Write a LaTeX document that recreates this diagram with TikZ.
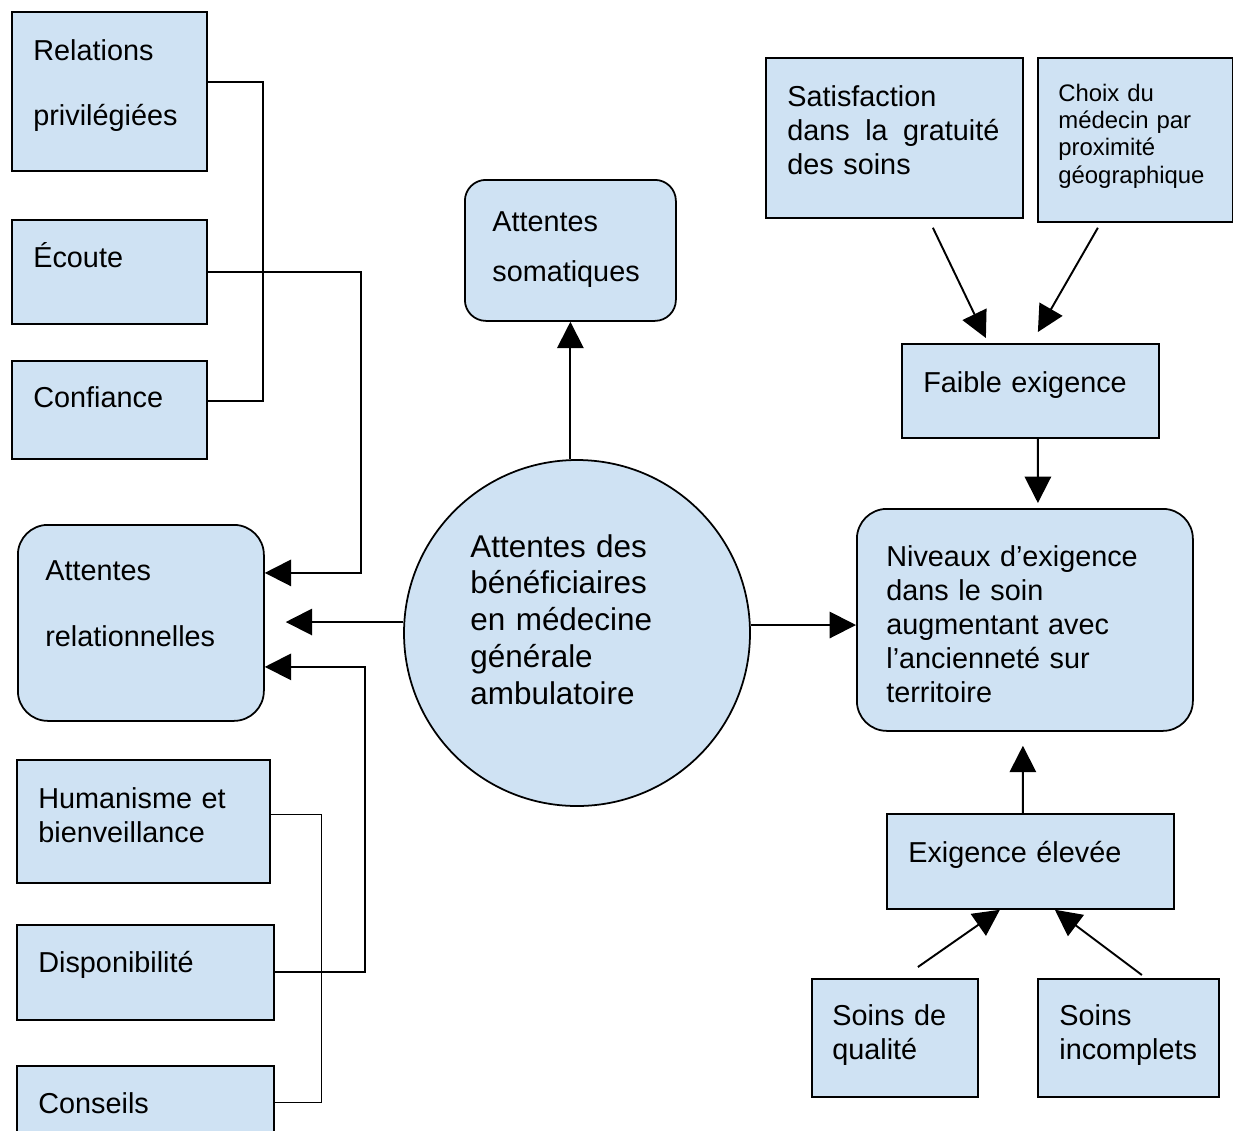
\documentclass[tikz,border=0pt]{standalone}
\usepackage{fontspec}
\setmainfont{Liberation Sans}
\usepackage{xcolor}
\usetikzlibrary{arrows.meta}

\definecolor{boxblue}{HTML}{CFE2F3}

\begin{document}
\begin{tikzpicture}[
    x=0.02cm, y=-0.02cm,
    font=\fontsize{16.4pt}{19.4pt}\selectfont,
    box/.style={draw, line width=1pt, fill=boxblue, anchor=north west, inner sep=0pt},
    rbox/.style={box, rounded corners=#1},
    wh/.style 2 args={minimum width=#1*0.02cm, minimum height=#2*0.02cm},
    txt/.style={anchor=base west, inner sep=0pt, align=left, text width=#1},
    arr/.style={line width=1.1pt, -{Triangle[length=15pt, width=15pt]}},
    lnk/.style={line width=1.1pt},
    thinlnk/.style={line width=0.6pt}
  ]
  \clip (0,0) rectangle (1233,1130);
  \fill[white] (0,0) rectangle (1233,1130);

  % boxes with one line of text
  \foreach \n/\x/\y/\w/\h/\tx/\ty/\t in {
      ecoute/11/219/195/104/33/267/Écoute,
      conf/11/360/195/98/33/407/Confiance,
      dispo/16/924/257/95/38/972/Disponibilité,
      cons/16/1065/257/74/38/1113/Conseils,
      faible/901/343/257/94/923/392/Faible exigence,
      elev/886/813/287/95/908/862/Exigence élevée} {
    \node[box, wh={\w}{\h}] (\n) at (\x,\y) {};
    \node[txt=5cm] (\n-t) at (\tx,\ty) {\t};
  }

  % left column
  \node[box, wh={195}{159}] (rel) at (11,11) {};
  \node[txt=3.6cm] (rel-t) at (33,60) {Relations\\[17.6pt]privilégiées};
  \node[rbox=0.6cm, wh={246}{196}] (attrel) at (17,524) {};
  \node[txt=4.4cm] (attrel-t) at (45,580) {Attentes\\[18.7pt]relationnelles};
  \node[box, wh={253}{123}] (human) at (16,759) {};
  \node[txt=4.6cm] (human-t) at (38,808) {Humanisme et\\bienveillance};

  % centre
  \node[draw, circle, line width=1pt, fill=boxblue, minimum size=346*0.02cm, inner sep=0pt] (circ) at (577,633) {};
  \node[txt=5.6cm, font=\fontsize{17.9pt}{21pt}\selectfont] (circ-t) at (470,557)
    {Attentes des\\bénéficiaires\\en médecine\\générale\\ambulatoire};
  \node[rbox=0.42cm, wh={211}{141}] (soma) at (464,179) {};
  \node[txt=3.8cm] (soma-t) at (492,231) {Attentes\\[9.1pt]somatiques};

  % right column
  \node[box, wh={257}{160}] (satis) at (765,57) {};
  \node[txt=212*0.02cm] (satis-t) at (787,106) {Satisfaction\\dans\hfill la\hfill gratuité\\des soins};
  \node[box, wh={195}{164}] (choix) at (1037,57) {};
  \node[txt=3.6cm, font=\fontsize{13.6pt}{15.65pt}\selectfont] (choix-t) at (1058,101)
    {Choix du\\médecin par\\proximité\\géographique};
  \node[rbox=0.6cm, wh={336}{222}] (niv) at (856,508) {};
  \node[txt=6cm] (niv-t) at (886,566)
    {Niveaux d’exigence\\dans le soin\\augmentant avec\\l’ancienneté sur\\territoire};
  \node[box, wh={166}{118}] (qual) at (811,978) {};
  \node[txt=2.9cm] (qual-t) at (832,1025) {Soins de\\qualité};
  \node[box, wh={181}{118}] (incom) at (1037,978) {};
  \node[txt=3.3cm] (incom-t) at (1059,1025) {Soins\\incomplets};

  % connectors on the left
  \draw[lnk] ([yshift=0.19cm]rel.east) -- ++(55,0) |- ([yshift=0.18cm]conf.east);
  \draw[arr] (ecoute.east) -- ++(153,0) |- ([yshift=1cm]attrel.east);
  \draw[arr] (dispo.east) -- ++(90,0) |- ([yshift=-0.88cm]attrel.east);
  \draw[thinlnk] ([yshift=0.13cm]human.east) -- ++(51,0) |- (cons.east);

  % connectors from the circle
  \coordinate (cl) at ([yshift=0.22cm]circ.west);
  \coordinate (cr) at ([yshift=0.16cm]circ.east);
  \draw[arr, shorten >=0.42cm] (cl) -- (cl -| attrel.east);
  \draw[arr] (cr) -- (cr -| niv.west);
  \draw[arr] (circ.north -| soma.south) -- (soma.south);

  % connectors on the right
  \draw[arr] ([shift={(38.5,9)}]satis.south) -- ([shift={(-44.5,-5)}]faible.north);
  \draw[arr] ([shift={(-37.5,5)}]choix.south) -- ([shift={(7.5,-11)}]faible.north);
  \draw[arr] ([xshift=0.15cm]faible.south) -- ([shift={(13,-5)}]niv.north);
  \draw[arr] ([xshift=-0.15cm]elev.north) -- ([shift={(-2,14)}]niv.south);
  \draw[arr] ([shift={(23,-11)}]qual.north) -- ([shift={(-30.5,0)}]elev.south);
  \draw[arr] ([shift={(13.5,-3)}]incom.north) -- ([shift={(24.5,0)}]elev.south);
\end{tikzpicture}
\end{document}
